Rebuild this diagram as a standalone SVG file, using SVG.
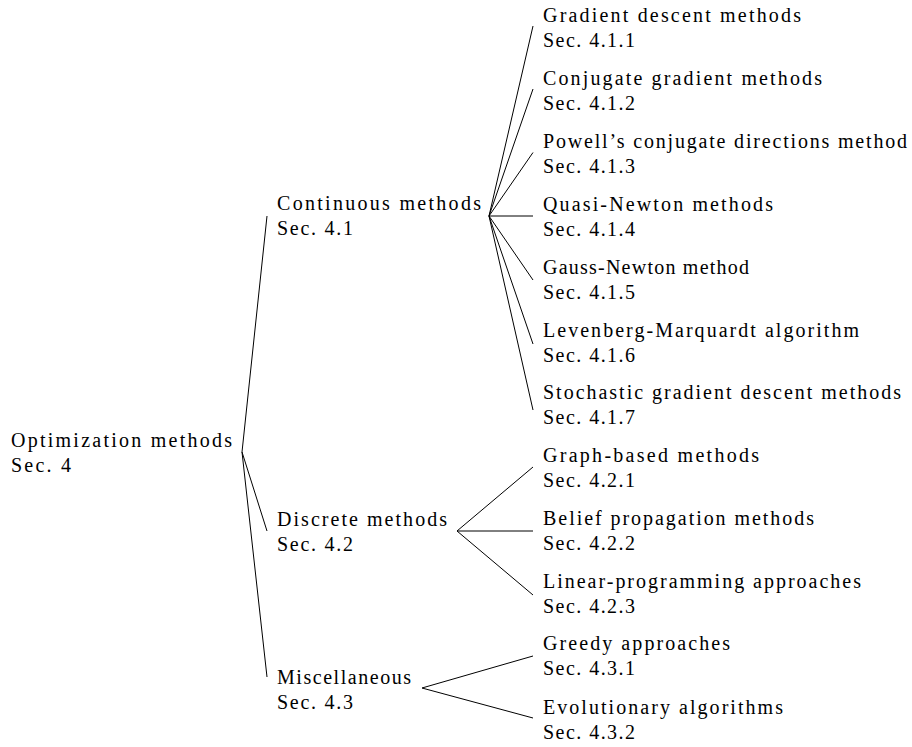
<svg xmlns="http://www.w3.org/2000/svg" width="912" height="747" viewBox="0 0 912 747">
<style>
text{font-family:"Liberation Serif","Times New Roman",serif;font-size:20px;fill:#000}
.c line{stroke:#000;stroke-width:1;fill:none}
</style>
<rect width="912" height="747" fill="#fff"/>
<g class="c" id="connectors">
<line x1="242" y1="452" x2="267" y2="216"/>
<line x1="242" y1="452" x2="267" y2="531"/>
<line x1="242" y1="452" x2="267" y2="677"/>
<line x1="489" y1="216" x2="533" y2="26"/>
<line x1="489" y1="216" x2="533" y2="89"/>
<line x1="489" y1="216" x2="533" y2="152.5"/>
<line x1="489" y1="216" x2="533" y2="216"/>
<line x1="489" y1="216" x2="533" y2="280"/>
<line x1="489" y1="216" x2="533" y2="344"/>
<line x1="489" y1="216" x2="533" y2="410"/>
<line x1="457" y1="531" x2="533" y2="467"/>
<line x1="457" y1="531" x2="533" y2="531"/>
<line x1="457" y1="531" x2="533" y2="595"/>
<line x1="422" y1="688" x2="533" y2="656"/>
<line x1="422" y1="688" x2="533" y2="718"/>
</g>
<g id="root"><text x="11" y="447" textLength="221" lengthAdjust="spacing">Optimization methods</text><text x="11" y="472" textLength="60" lengthAdjust="spacing">Sec. 4</text></g>
<g id="continuous"><text x="277" y="210" textLength="204" lengthAdjust="spacing">Continuous methods</text><text x="277" y="235" textLength="76" lengthAdjust="spacing">Sec. 4.1</text></g>
<g id="discrete"><text x="277" y="526" textLength="170" lengthAdjust="spacing">Discrete methods</text><text x="277" y="551" textLength="76" lengthAdjust="spacing">Sec. 4.2</text></g>
<g id="misc"><text x="277" y="684" textLength="134" lengthAdjust="spacing">Miscellaneous</text><text x="277" y="709" textLength="76" lengthAdjust="spacing">Sec. 4.3</text></g>
<g id="c1"><text x="543" y="22" textLength="258" lengthAdjust="spacing">Gradient descent methods</text><text x="543" y="47" textLength="92" lengthAdjust="spacing">Sec. 4.1.1</text></g>
<g id="c2"><text x="543" y="85" textLength="279" lengthAdjust="spacing">Conjugate gradient methods</text><text x="543" y="110" textLength="92" lengthAdjust="spacing">Sec. 4.1.2</text></g>
<g id="c3"><text x="543" y="148" textLength="364" lengthAdjust="spacing">Powell’s conjugate directions method</text><text x="543" y="173" textLength="92" lengthAdjust="spacing">Sec. 4.1.3</text></g>
<g id="c4"><text x="543" y="211" textLength="230" lengthAdjust="spacing">Quasi-Newton methods</text><text x="543" y="236" textLength="92" lengthAdjust="spacing">Sec. 4.1.4</text></g>
<g id="c5"><text x="543" y="274" textLength="206" lengthAdjust="spacing">Gauss-Newton method</text><text x="543" y="299" textLength="92" lengthAdjust="spacing">Sec. 4.1.5</text></g>
<g id="c6"><text x="543" y="337" textLength="316" lengthAdjust="spacing">Levenberg-Marquardt algorithm</text><text x="543" y="362" textLength="92" lengthAdjust="spacing">Sec. 4.1.6</text></g>
<g id="c7"><text x="543" y="399" textLength="358" lengthAdjust="spacing">Stochastic gradient descent methods</text><text x="543" y="424" textLength="92" lengthAdjust="spacing">Sec. 4.1.7</text></g>
<g id="d1"><text x="543" y="462" textLength="216" lengthAdjust="spacing">Graph-based methods</text><text x="543" y="487" textLength="92" lengthAdjust="spacing">Sec. 4.2.1</text></g>
<g id="d2"><text x="543" y="525" textLength="271" lengthAdjust="spacing">Belief propagation methods</text><text x="543" y="550" textLength="92" lengthAdjust="spacing">Sec. 4.2.2</text></g>
<g id="d3"><text x="543" y="588" textLength="318" lengthAdjust="spacing">Linear-programming approaches</text><text x="543" y="613" textLength="92" lengthAdjust="spacing">Sec. 4.2.3</text></g>
<g id="m1"><text x="543" y="650" textLength="187" lengthAdjust="spacing">Greedy approaches</text><text x="543" y="675" textLength="92" lengthAdjust="spacing">Sec. 4.3.1</text></g>
<g id="m2"><text x="543" y="714" textLength="240" lengthAdjust="spacing">Evolutionary algorithms</text><text x="543" y="739" textLength="92" lengthAdjust="spacing">Sec. 4.3.2</text></g>
</svg>
